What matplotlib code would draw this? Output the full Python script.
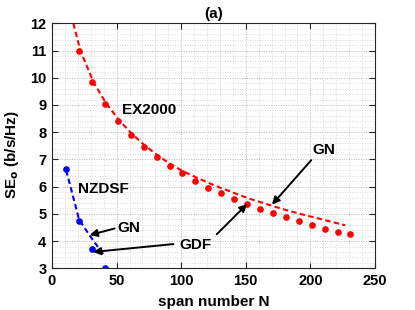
import numpy as np
import matplotlib
matplotlib.use("Agg")
import matplotlib.pyplot as plt
from matplotlib.ticker import MultipleLocator

plt.rcParams['font.family'] = ['Liberation Sans', 'DejaVu Sans']
plt.rcParams['font.weight'] = 'bold'

# ─── Data ─────────────────────────────────────────────────────────────────────
ex_n   = [21, 31, 41, 51, 61, 71, 81, 91, 101, 111, 121, 131, 141, 151, 161,
          171, 181, 191, 201, 211, 221, 231]
ex_se  = [11.0, 9.85, 9.03, 8.42, 7.89, 7.46, 7.10, 6.75, 6.49, 6.21, 5.96,
          5.75, 5.53, 5.36, 5.18, 5.02, 4.87, 4.74, 4.59, 4.46, 4.34, 4.27]
ex_fit_n  = [16.5, 22, 32, 42, 52, 62, 72, 82, 92, 102, 112, 122, 132, 142,
             152, 162, 172, 182, 192, 202, 212, 227]
ex_fit_se = [12.0, 11.0, 9.85, 9.05, 8.44, 7.93, 7.51, 7.14, 6.82, 6.55, 6.33,
             6.12, 5.93, 5.75, 5.57, 5.42, 5.27, 5.13, 5.00, 4.88, 4.76, 4.58]

nz_n   = [11, 21, 31, 41]
nz_se  = [6.63, 4.74, 3.70, 3.02]
nz_fit_n  = [11, 21, 31, 41]
nz_fit_se = [6.60, 4.78, 4.08, 3.43]

RED  = '#ff0000'
BLUE = '#0000ff'

# ─── Figure ───────────────────────────────────────────────────────────────────
fig = plt.figure(figsize=(4.15, 3.10), dpi=100)
ax = fig.add_axes([0.1253, 0.1345, 0.7783, 0.7903])

ax.plot(ex_fit_n, ex_fit_se, '--', color=RED, lw=1.5, dashes=(2.6, 1.6))
ax.plot(ex_n, ex_se, 'o', color=RED, ms=4.8, mec='none')
ax.plot(nz_fit_n, nz_fit_se, '--', color=BLUE, lw=1.5, dashes=(2.6, 1.6))
ax.plot(nz_n, nz_se, 'o', color=BLUE, ms=4.8, mec='none')

# text labels
ax.text(75.5, 8.8, 'EX2000', fontsize=11, fontweight='bold', ha='center', va='center')
ax.text(40, 5.9, 'NZDSF', fontsize=11, fontweight='bold', ha='center', va='center')

arrow = dict(arrowstyle='-|>', color='black', lw=1.4, mutation_scale=11,
             shrinkA=0, shrinkB=0)
ax.annotate('GN', xy=(170.3, 5.34), xytext=(210.5, 7.33), fontsize=11,
            fontweight='bold', ha='center', va='center',
            arrowprops=dict(arrow, relpos=(0.05, 0.0)))
ax.annotate('', xy=(151, 5.36), xytext=(127.5, 4.25), arrowprops=arrow)
ax.text(111, 3.85, 'GDF', fontsize=11, fontweight='bold', ha='center', va='center')
ax.annotate('', xy=(31.8, 3.6), xytext=(94, 3.89), arrowprops=arrow)
ax.annotate('GN', xy=(29.2, 4.22), xytext=(59.5, 4.49), fontsize=11,
            fontweight='bold', ha='center', va='center',
            arrowprops=dict(arrow, relpos=(0.0, 0.5)))

# axes styling (MATLAB look)
ax.set_xlim(0, 250)
ax.set_ylim(3, 12)
ax.xaxis.set_major_locator(MultipleLocator(50))
ax.xaxis.set_minor_locator(MultipleLocator(10))
ax.yaxis.set_major_locator(MultipleLocator(1))
ax.yaxis.set_minor_locator(MultipleLocator(0.2))
ax.grid(True, which='major', color='#b8b8b8', ls=(0, (1, 1.5)), lw=0.7)
ax.grid(True, which='minor', color='#d0d0d0', ls=(0, (1, 2)), lw=0.6)
ax.set_axisbelow(True)
ax.tick_params(which='both', direction='in', top=True, right=True,
               labelsize=10.5, width=0.8, color='#262626')
ax.tick_params(which='major', length=4, pad=4)
ax.tick_params(which='minor', length=0)
for lbl in ax.get_xticklabels() + ax.get_yticklabels():
    lbl.set_fontweight('bold')
for sp in ax.spines.values():
    sp.set_color('#262626')
    sp.set_linewidth(0.8)

ax.set_xlabel('span number N', fontsize=11, fontweight='bold', labelpad=5)
ax.set_ylabel(r'SE$_{\mathbf{o}}$ (b/s/Hz)', fontsize=11, fontweight='bold')
ax.yaxis.set_label_coords(-0.095, 0.465)
ax.set_title('(a)', fontsize=11, fontweight='bold', pad=4)

plt.savefig('out.png', dpi=100)
